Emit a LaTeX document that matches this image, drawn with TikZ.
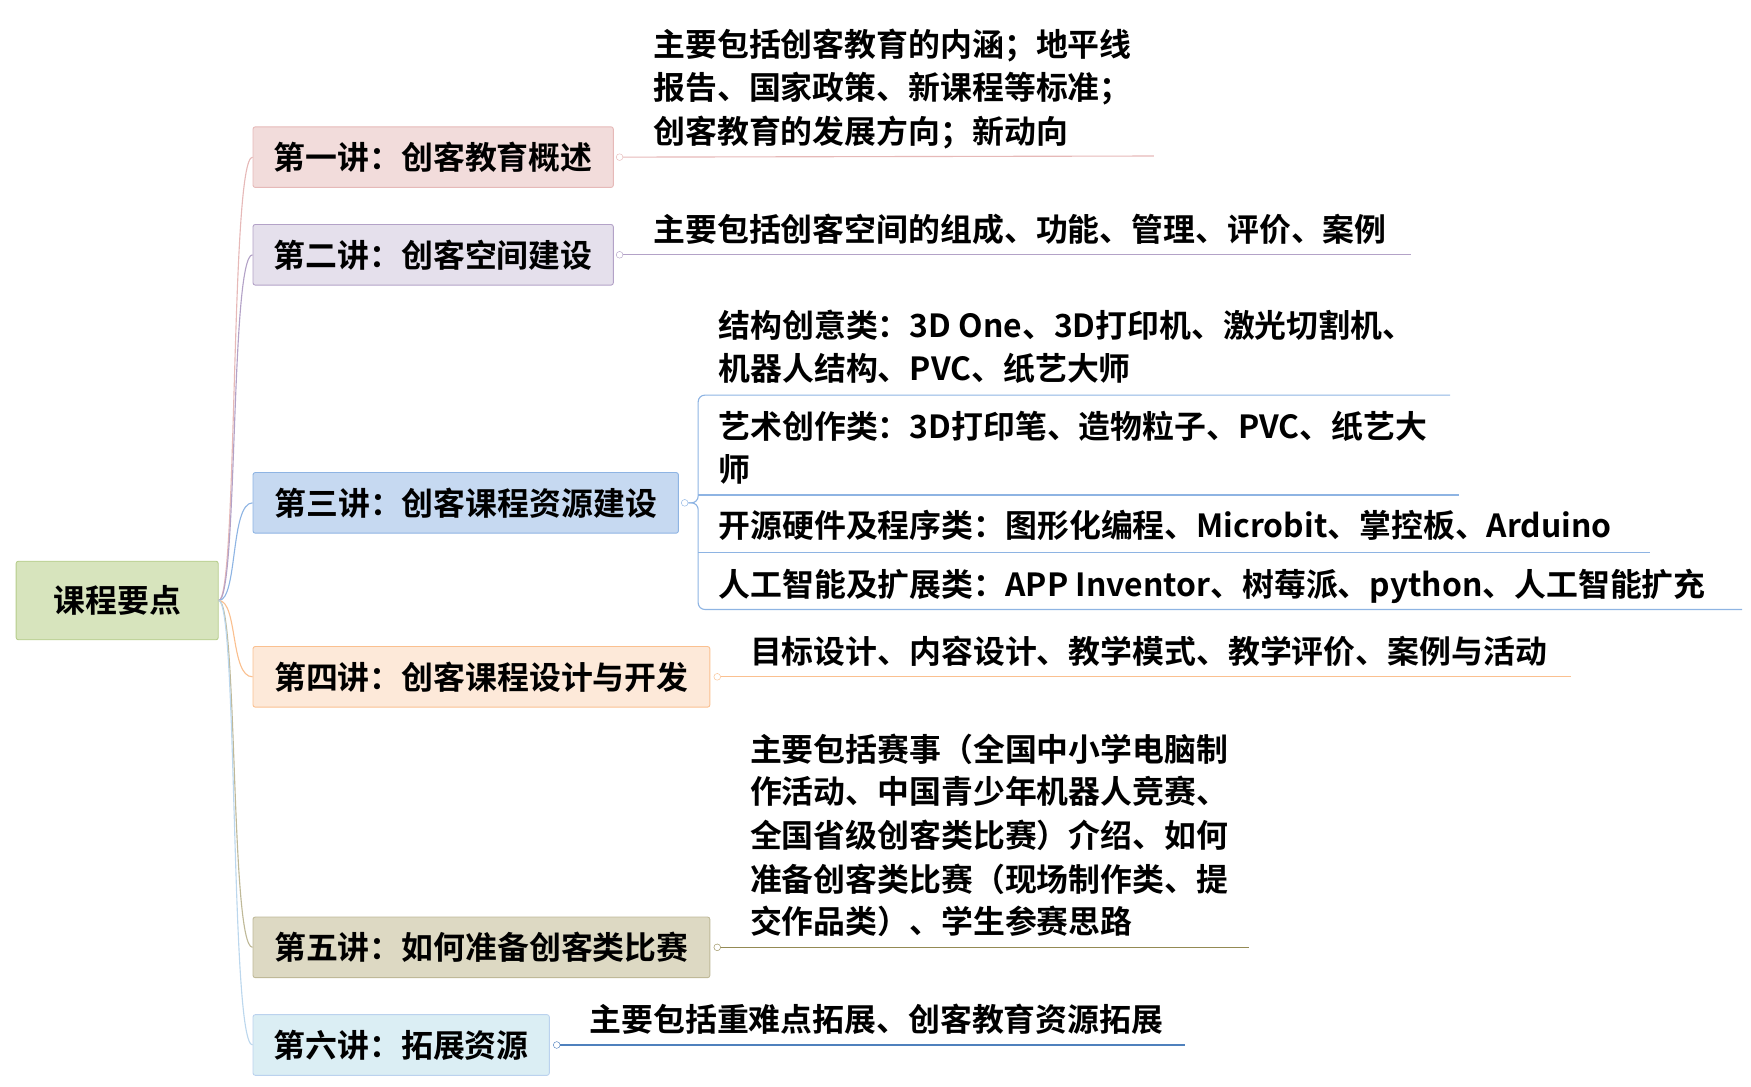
\documentclass[tikz,border=0pt]{standalone}
\usepackage{fontspec}
\setmainfont{Noto Sans CJK SC Bold}
\definecolor{rootfill}{HTML}{D7E4BD}\definecolor{rootdraw}{HTML}{B5CC8A}
\definecolor{fa}{HTML}{F2DCDB}\definecolor{da}{HTML}{E6B9B8}
\definecolor{fb}{HTML}{E5E0EC}\definecolor{db}{HTML}{B3A2C7}
\definecolor{fc}{HTML}{C6D9F1}\definecolor{dc}{HTML}{8EB4E3}
\definecolor{fd}{HTML}{FDE9D9}\definecolor{dd}{HTML}{FAC090}
\definecolor{fe}{HTML}{DDD9C3}\definecolor{de}{HTML}{948A54}
\definecolor{ff}{HTML}{DBEEF4}\definecolor{df}{HTML}{4F81BD}
\begin{document}
\begin{tikzpicture}
[x=1pt,y=-1pt,
 font=\fontsize{28.4}{36}\selectfont,
 lec/.style={draw=#1,thick,rounded corners=2pt,minimum height=54pt,anchor=west,inner xsep=16pt},
 txt/.style={anchor=base west,inner sep=0pt},
 dot/.style={draw=#1,fill=white,circle,inner sep=0pt,minimum size=6pt},
 link/.style={draw=#1,line width=1pt}]
\useasboundingbox (0,0) rectangle (1560,968);
\node[lec=rootdraw,fill=rootfill,minimum width=180pt,minimum height=70pt] (root) at (14,535) {课程要点};
\node[lec=da,fill=fa,minimum width=321pt] (a) at (225,140) {第一讲：创客教育概述};
\node[lec=db,fill=fb,minimum width=321pt] (b) at (225,227) {第二讲：创客空间建设};
\node[lec=dc,fill=fc,minimum width=379pt] (c) at (225,448) {第三讲：创客课程资源建设};
\node[lec=dd,fill=fd,minimum width=407pt] (d) at (225,603) {第四讲：创客课程设计与开发};
\node[lec=de!60,fill=fe,minimum width=407pt] (e) at (225,844) {第五讲：如何准备创客类比赛};
\node[lec=dc!60,fill=ff,minimum width=264pt] (f) at (225,931) {第六讲：拓展资源};
% branches from the root
\draw[link=da] (root.east) .. controls (212,535) and (205,140) .. (a.west);
\draw[link=db] (root.east) .. controls (212,535) and (205,227) .. (b.west);
\draw[link=dc] (root.east) .. controls (212,535) and (205,448) .. (c.west);
\draw[link=dd] (root.east) .. controls (212,535) and (205,603) .. (d.west);
\draw[link=de!60] (root.east) .. controls (212,535) and (205,844) .. (e.west);
\draw[link=ff!60!dc] (root.east) .. controls (212,535) and (205,931) .. (f.west);
% knots
\node[dot=da] (ka) at (552,140) {};
\node[dot=db] (kb) at (552,227) {};
\node[dot=dc] (kc) at (610,448) {};
\node[dot=dd] (kd) at (639,603) {};
\node[dot=de] (ke) at (639,844) {};
\node[dot=df] (kf) at (496,931) {};
\coordinate (ua) at (1028,139);
\coordinate (ub) at (1257,227);
\coordinate (uc1) at (1292,352);
\coordinate (uc2) at (1300,441);
\coordinate (uc3) at (1470,492);
\coordinate (uc4) at (1552,543);
\coordinate (ud) at (1400,603);
\coordinate (ue) at (1113,844);
\coordinate (uf) at (1056,931);
\draw[link=da] (ka) -- (ua);
\draw[link=db] (kb) -- (ub);
\draw[link=dd] (kd) -- (ud);
\draw[link=de] (ke) -- (ue);
\draw[link=df] (kf) -- (uf);
\draw[link=dc,rounded corners=6pt] (kc) -- (622,448) |- (uc1);
\draw[link=dc,rounded corners=6pt] (kc) -- (622,448) |- (uc4);
\draw[link=dc] (622,441) -- (uc2);
\draw[link=dc] (622,492) -- (uc3);
% texts
\node[txt] (ta1) at (582,50) {主要包括创客教育的内涵；地平线};
\node[txt] (ta2) at (582,89) {报告、国家政策、新课程等标准；};
\node[txt] (ta3) at (582,128) {创客教育的发展方向；新动向};
\node[txt] (tb) at (582,215) {主要包括创客空间的组成、功能、管理、评价、案例};
\node[txt] (tc1) at (640,301) {结构创意类：3D One、3D打印机、激光切割机、};
\node[txt] (tc2) at (640,339) {机器人结构、PVC、纸艺大师};
\node[txt] (tc3) at (640,391) {艺术创作类：3D打印笔、造物粒子、PVC、纸艺大};
\node[txt] (tc4) at (640,429) {师};
\node[txt] (tc5) at (640,479) {开源硬件及程序类：图形化编程、Microbit、掌控板、Arduino};
\node[txt] (tc6) at (640,531) {人工智能及扩展类：APP Inventor、树莓派、python、人工智能扩充};
\node[txt] (td) at (668,591) {目标设计、内容设计、教学模式、教学评价、案例与活动};
\node[txt] (te1) at (668,678) {主要包括赛事（全国中小学电脑制};
\node[txt] (te2) at (668,716) {作活动、中国青少年机器人竞赛、};
\node[txt] (te3) at (668,755) {全国省级创客类比赛）介绍、如何};
\node[txt] (te4) at (668,794) {准备创客类比赛（现场制作类、提};
\node[txt] (te5) at (668,832) {交作品类）、学生参赛思路};
\node[txt] (tf) at (525,919) {主要包括重难点拓展、创客教育资源拓展};
\end{tikzpicture}
\end{document}
